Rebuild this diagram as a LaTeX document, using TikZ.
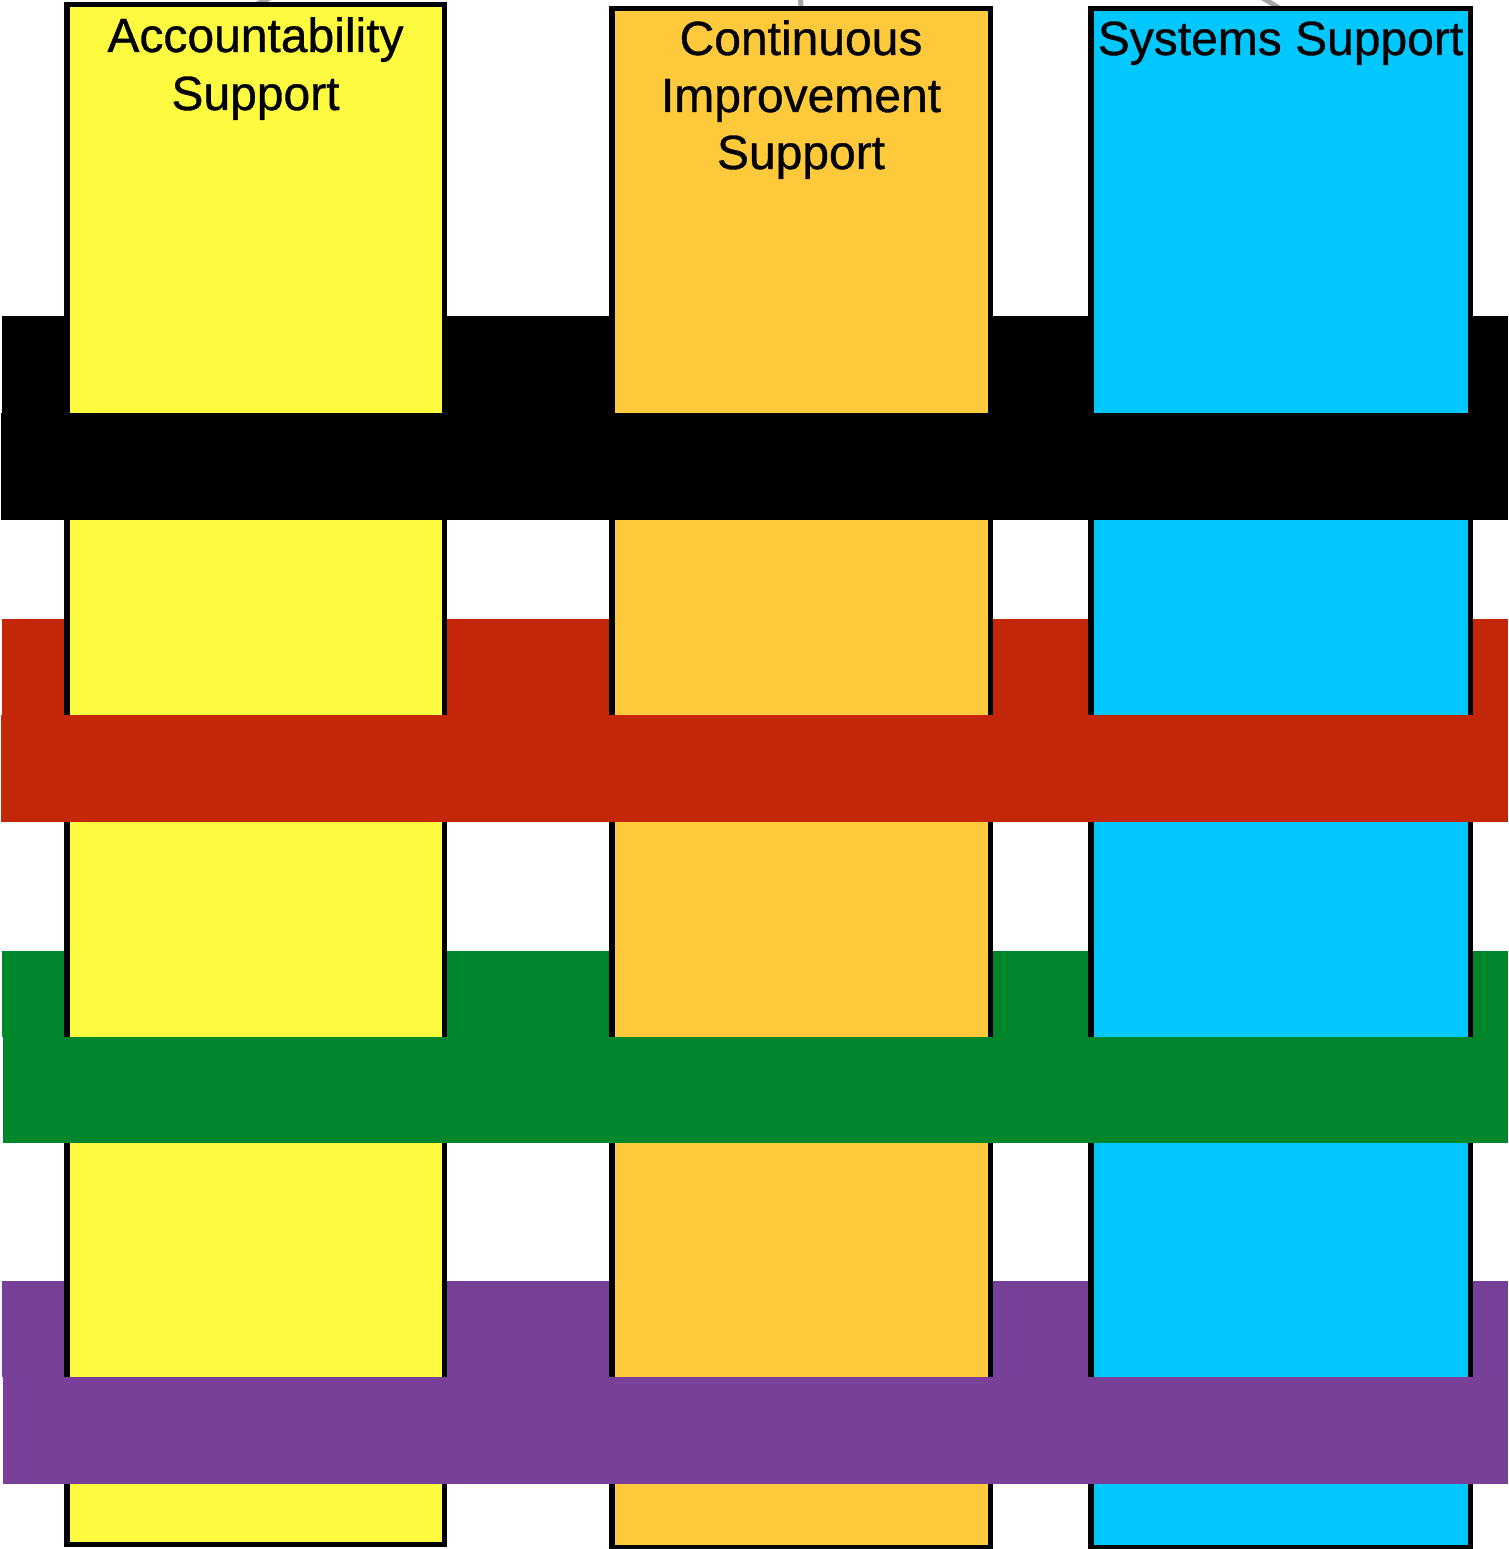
\documentclass[tikz,border=0pt]{standalone}
\usepackage{fontspec}
\setmainfont{Liberation Sans}
\newfontfamily\lblfont{Liberation Sans}[FakeBold=0.7]
\definecolor{colyellow}{RGB}{254,250,64}
\definecolor{colorange}{RGB}{254,202,60}
\definecolor{colcyan}{RGB}{0,200,254}
\definecolor{bandred}{RGB}{196,38,8}
\definecolor{bandgreen}{RGB}{0,135,43}
\definecolor{bandpurple}{RGB}{120,64,152}
\definecolor{stubgray}{RGB}{165,165,165}
\begin{document}
\begin{tikzpicture}[x=1pt,y=-1pt,
  colbox/.style={draw=black,line width=5.5pt,rectangle,inner sep=0pt},
  lbl/.style={anchor=base,inner sep=0pt,font=\lblfont\fontsize{48}{58}\selectfont},
  stub/.style={draw=stubgray,line width=5pt}]
\useasboundingbox (0,0) rectangle (1508,1549);
% back halves of the bands
\fill[black]      (2,316)  rectangle (1508,413);
\fill[bandred]    (2,619)  rectangle (1508,715);
\fill[bandgreen]  (2,951)  rectangle (1508,1037);
\fill[bandpurple] (2,1281) rectangle (1508,1377);
% connector stubs from above (drawn under the columns)
\coordinate (s1) at (272,-3);
\coordinate (s2) at (800.5,-3);
\coordinate (s3) at (1261,-3);
\coordinate (t1) at (255.5,4.75);
\coordinate (t2) at (801,8.75);
\coordinate (t3) at (1280.5,8.75);
\draw[stub] (s1) -- (t1);
\draw[stub] (s2) -- (t2);
\draw[stub] (s3) -- (t3);
% columns
\node[colbox,fill=colyellow,minimum width=377.5pt,minimum height=1539.5pt] (acc) at (255.5,774.5) {};
\node[colbox,fill=colorange,minimum width=378.5pt,minimum height=1538.5pt] (cont) at (801,778) {};
\node[colbox,fill=colcyan,minimum width=379.5pt,minimum height=1538.5pt] (sys) at (1280.5,778) {};
% labels
\node[lbl] (acc1) at (255.5,52) {Accountability};
\node[lbl] (acc2) at (255.5,110) {Support};
\node[lbl] (cont1) at (801,55) {Continuous};
\node[lbl] (cont2) at (801,112) {Improvement};
\node[lbl] (cont3) at (801,169) {Support};
\node[lbl] (sys1) at (1280.5,55) {Systems Support};
% front halves of the bands
\fill[black]      (1,413)  rectangle (1508,520);
\fill[bandred]    (1,715)  rectangle (1508,822);
\fill[bandgreen]  (3,1037) rectangle (1508,1143);
\fill[bandpurple] (3,1377) rectangle (1508,1484);
\end{tikzpicture}
\end{document}
